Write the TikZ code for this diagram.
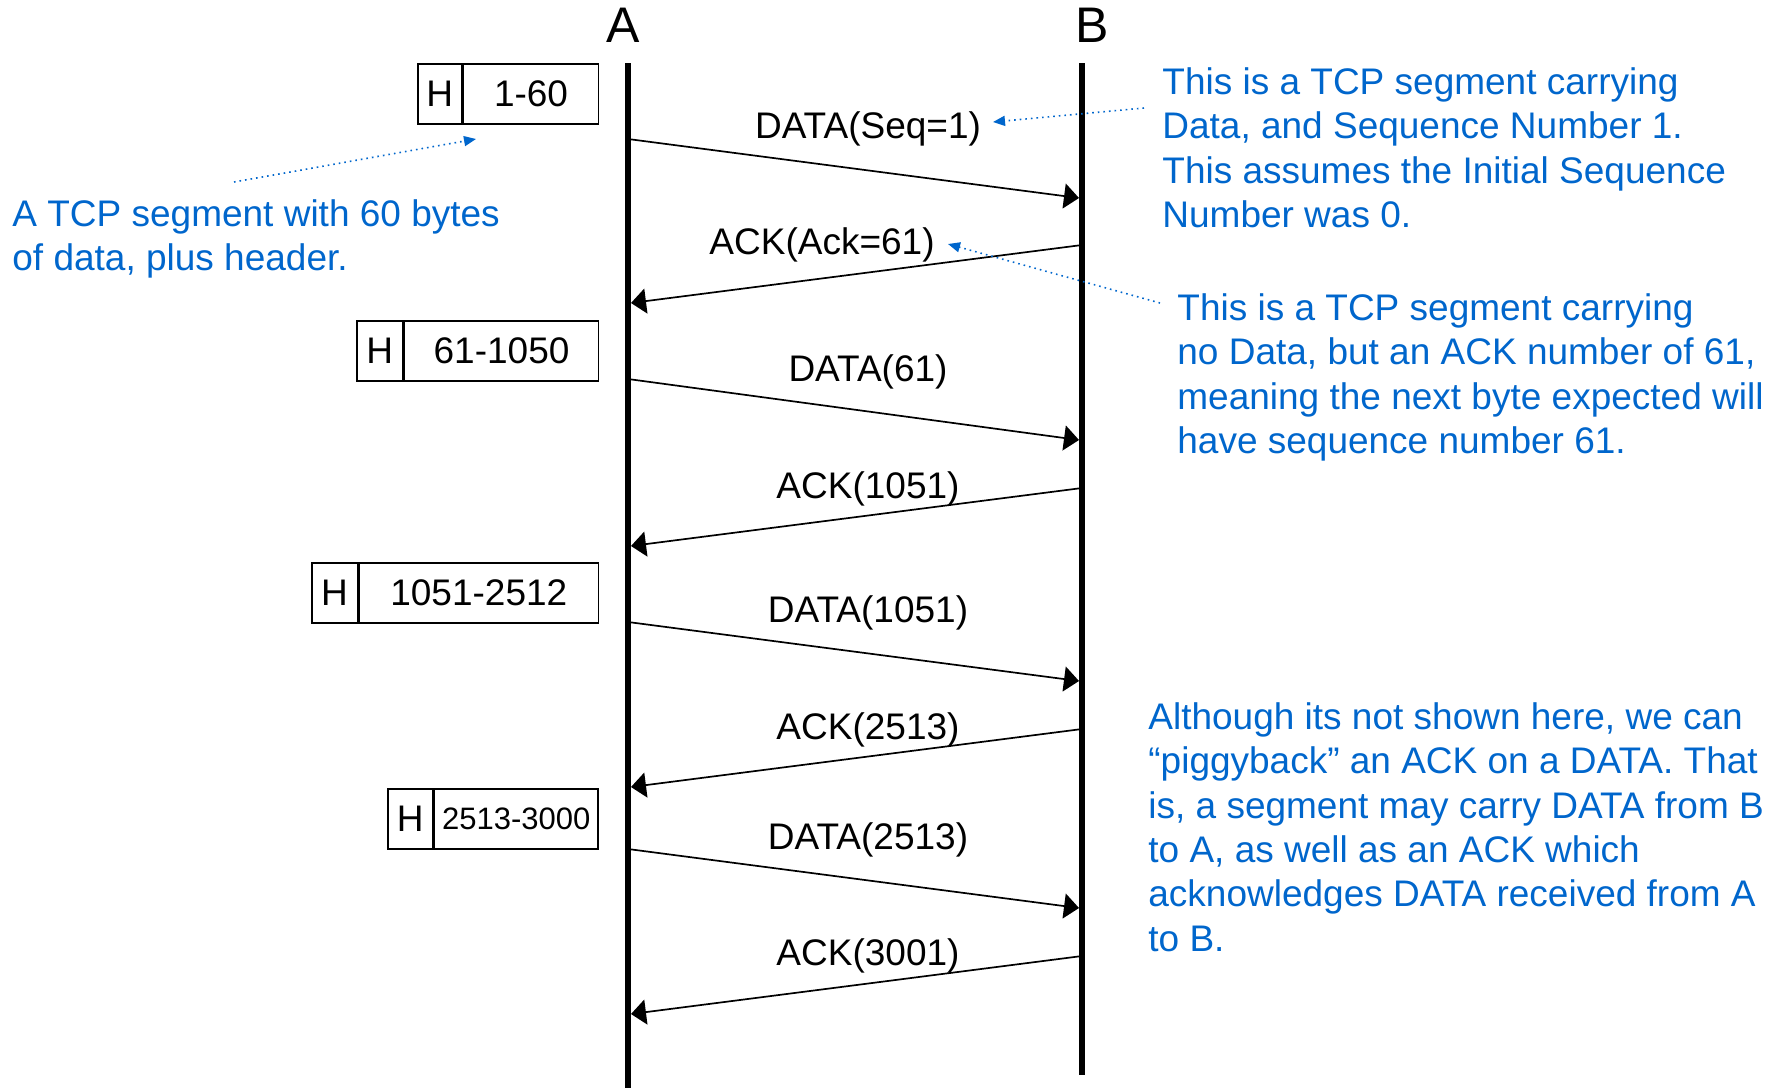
\documentclass[tikz,border=0pt]{standalone}
\usepackage{fontspec}
\setmainfont{Liberation Sans}
\usetikzlibrary{arrows.meta}
\definecolor{noteblue}{RGB}{0,102,204}
\tikzset{
  lifeline/.style={line width=3pt},
  msg/.style={line width=0.85pt,-{Triangle[length=7.5pt,width=12.5pt]}},
  msglbl/.style={font=\fontsize{18.5}{22.2}\selectfont, inner sep=0pt},
  party/.style={font=\fontsize{25}{30}\selectfont, inner sep=0pt},
  cell/.style={draw, line width=0.85pt, anchor=north west, inner sep=0pt, font=\fontsize{18.5}{22.2}\selectfont, minimum height=30pt},
  note/.style={text=noteblue, align=left, anchor=north west, inner sep=0pt, font=\fontsize{18.5}{22.2}\selectfont},
  pointer/.style={noteblue, line width=0.8pt, dotted, -{Triangle[length=6pt,width=5pt]}}
}
\begin{document}
\begin{tikzpicture}[x=0.5pt,y=-0.5pt]
\useasboundingbox (0,0) rectangle (1786,1088);
% parties
\node[party] (A) at (623,25) {A};
\node[party] (B) at (1092,25) {B};
\coordinate (Atop) at (628,63);
\coordinate (Abot) at (628,1088);
\coordinate (Btop) at (1082,63);
\coordinate (Bbot) at (1082,1075);
\draw[lifeline] (Atop) -- (Abot);
\draw[lifeline] (Btop) -- (Bbot);
% segment boxes
\node[cell, minimum width=22pt] (h1) at (417,63) {H};
\node[cell, minimum width=67.5pt] (d1) at (h1.north east) {1-60};
\node[cell, minimum width=23pt] (h2) at (356,320) {H};
\node[cell, minimum width=97pt] (d2) at (h2.north east) {61-1050};
\node[cell, minimum width=22.75pt] (h3) at (311,562) {H};
\node[cell, minimum width=119.75pt] (d3) at (h3.north east) {1051-2512};
\node[cell, minimum width=22.35pt] (h4) at (387,788) {H};
\node[cell, minimum width=82pt, font=\fontsize{15.5}{18}\selectfont] (d4) at (h4.north east) {2513-3000};
% message endpoints
\coordinate (s1) at (628,139);  \coordinate (e1) at (1079,198);
\coordinate (s2) at (1082,245); \coordinate (e2) at (631,303);
\coordinate (s3) at (628,379);  \coordinate (e3) at (1079,440);
\coordinate (s4) at (1082,488); \coordinate (e4) at (631,546);
\coordinate (s5) at (628,622);  \coordinate (e5) at (1079,681);
\coordinate (s6) at (1082,729); \coordinate (e6) at (631,787);
\coordinate (s7) at (628,849);  \coordinate (e7) at (1079,908);
\coordinate (s8) at (1082,956); \coordinate (e8) at (631,1014);
\draw[msg] (s1) -- (e1);
\draw[msg] (s2) -- (e2);
\draw[msg] (s3) -- (e3);
\draw[msg] (s4) -- (e4);
\draw[msg] (s5) -- (e5);
\draw[msg] (s6) -- (e6);
\draw[msg] (s7) -- (e7);
\draw[msg] (s8) -- (e8);
% message labels
\node[msglbl] (l1) at (868,129) {DATA(Seq=1)};
\node[msglbl] (l2) at (822,245) {ACK(Ack=61)};
\node[msglbl] (l3) at (868,372) {DATA(61)};
\node[msglbl] (l4) at (868,489) {ACK(1051)};
\node[msglbl] (l5) at (868,613) {DATA(1051)};
\node[msglbl] (l6) at (868,730) {ACK(2513)};
\node[msglbl] (l7) at (868,840) {DATA(2513)};
\node[msglbl] (l8) at (868,956) {ACK(3001)};
% notes
\node[note] (n1) at (12,199) {A TCP segment with 60 bytes\\of data, plus header.};
\node[note] (n2) at (1162,67) {This is a TCP segment carrying\\Data, and Sequence Number 1.\\This assumes the Initial Sequence\\Number was 0.};
\node[note] (n3) at (1177,293) {This is a TCP segment carrying\\no Data, but an ACK number of 61,\\meaning the next byte expected will\\have sequence number 61.};
\node[note] (n4) at (1148,702) {Although its not shown here, we can\\“piggyback” an ACK on a DATA. That\\is, a segment may carry DATA from B\\to A, as well as an ACK which\\acknowledges DATA received from A\\to B.};
% pointers
\coordinate (p1s) at (234,182); \coordinate (p1e) at (476,139);
\coordinate (p2s) at (1144,108); \coordinate (p2e) at (993,122);
\coordinate (p3s) at (1160,303); \coordinate (p3e) at (948,244);
\draw[pointer] (p1s) -- (p1e);
\draw[pointer] (p2s) -- (p2e);
\draw[pointer] (p3s) -- (p3e);
\end{tikzpicture}
\end{document}
